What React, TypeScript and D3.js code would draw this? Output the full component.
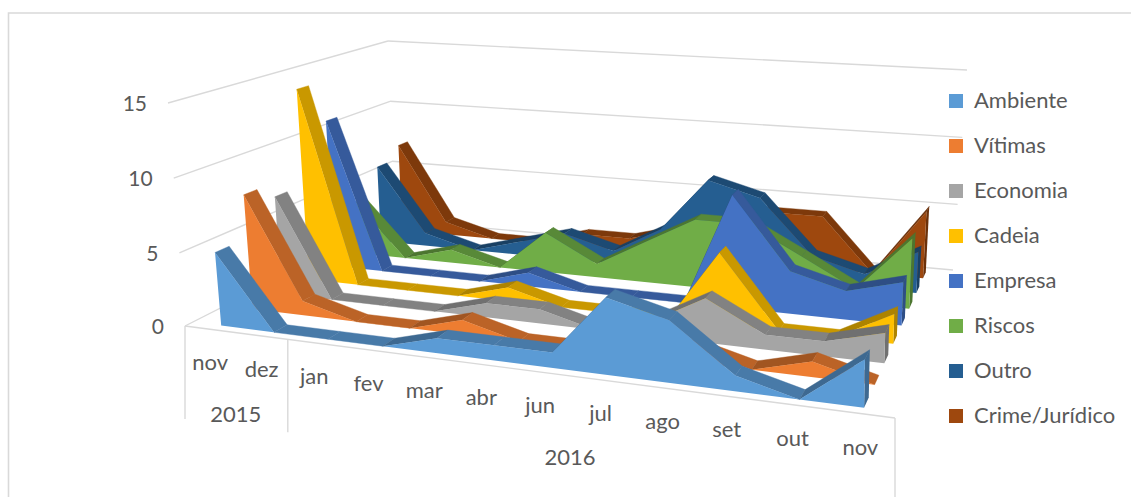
import React from "react";
import * as d3 from "d3";

const months = ["nov","dez","jan","fev","mar","abr","jun","jul","ago","set","out","nov"];
const seriesNames = ["Ambiente","Vítimas","Economia","Cadeia","Empresa","Riscos","Outro","Crime/Jurídico"];
const seriesColors = ["#5B9BD5","#ED7D31","#A5A5A5","#FFC000","#4472C4","#70AD47","#255E91","#9E480E"];
const ambiente = [5,0,0,0,1,1,1,5,4,1,0,3];
const vitimas = [8,1,0,0,1,0,0,0,1,0,1,0];
const economia = [7,0,0,0,1,1,0,1,3,1,1,2];
const cadeia = [14,0,0,0,1,0,0,0,5,0,0,2];
const empresa = [11,0,0,0,1,0,0,0,8,3,2,3];
const riscos = [4,0,1,0,3,1,3,5,5,3,1,5];
const outro = [6,1,0,1,2,1,3,7,6,2,1,3];
const crime = [7,1,0,0,1,1,2,4,4,4,0,5];
const allSeries = [ambiente,vitimas,economia,cadeia,empresa,riscos,outro,crime];
const valueTicks = [0,5,10,15];
const years = [{label:"2015",from:0,to:2},{label:"2016",from:2,to:12}];

// camera: corners of the chart box, on the floor and at the top of the value axis
const floorQuad=[[185,326],[895,418],[953,270],[394,220]];
const topQuad=[[168,103],[905,169],[967,70],[388,41]];
const SERIES_WARP=1.085, AXIS_WARP=1.04;

function homography(q:number[][]){
  const [[x0,y0],[x1,y1],[x2,y2],[x3,y3]]=q;
  const dx1=x1-x2,dx2=x3-x2,dy1=y1-y2,dy2=y3-y2;
  const sx=x0-x1+x2-x3,sy=y0-y1+y2-y3;
  const den=dx1*dy2-dx2*dy1;
  const g=(sx*dy2-dx2*sy)/den,h=(dx1*sy-sx*dy1)/den;
  const a=x1-x0+g*x1,b=x3-x0+h*x3,c=x0,d=y1-y0+g*y1,e=y3-y0+h*y3,f=y0;
  return (u:number,z:number):[number,number]=>{
    const w=g*u+h*z+1;
    return [(a*u+b*z+c)/w,(d*u+e*z+f)/w];
  };
}
const HF=homography(floorQuad),HT=homography(topQuad);
const P=(u0:number,z:number,t:number,r:number=SERIES_WARP):[number,number]=>{
  const u=r*u0/(1+(r-1)*u0);
  const a=HF(u,z),b=HT(u,z);
  return [a[0]+(b[0]-a[0])*t,a[1]+(b[1]-a[1])*t];
};
const uScale=d3.scaleLinear().domain([0,11]).range([0.045,0.958]);
const cellScale=d3.scaleLinear().domain([0,12]).range([0,1]);
const zFront=d3.scaleLinear().domain([0,8]).range([0.03,1.03]);
const BAND=0.054;
const vScale=d3.scaleLinear().domain([0,5,10,15]).range([0,0.328,0.663,1]);
const pts=(p:[number,number][])=>p.map(q=>q[0].toFixed(2)+","+q[1].toFixed(2)).join(" ");
const shade=(c:string,f:number)=>{const r=d3.rgb(c);return d3.rgb(r.r*f,r.g*f,r.b*f).formatHex();};

const GRID="#d9d9d9",TXT="#595959",FONT="Lato, Carlito, sans-serif";

export default function App(){
  const order=d3.range(allSeries.length).reverse();
  const line=(a:[number,number],b:[number,number],key:string)=>
    <line key={key} x1={a[0]} y1={a[1]} x2={b[0]} y2={b[1]} stroke={GRID} strokeWidth={1.4}/>;
  return (
    <svg width={1131} height={497} style={{position:"absolute",left:0,top:0,background:"#fff"}} fontFamily={FONT}>
      <path d="M8.5 497V13H1131" fill="none" stroke={GRID} strokeWidth={1.6}/>
      {valueTicks.map(v=>{
        const t=vScale(v),a=P(0,0,t),b=P(0,1,t),c=P(1,1,t);
        return <g key={v}>
          {line(a,b,"l")}{line(b,c,"b")}
          <text x={a[0]-21} y={a[1]+8} textAnchor="end" fontSize={21} fill={TXT}>{v}</text>
        </g>;
      })}
      {line(P(0,0,0),P(1,0,0),"front")}
      {[0,2,12].map(i=>{const a=P(cellScale(i),0,0,AXIS_WARP);return line(a,[a[0],a[1]+93],"div"+i);})}
      {months.map((m,i)=>{const a=P(cellScale(i+0.5),0,0,AXIS_WARP);
        return <text key={i} x={a[0]} y={a[1]+41} textAnchor="middle" fontSize={22} fill={TXT}>{m}</text>;})}
      {years.map(y=>{const a=P(cellScale((y.from+y.to)/2),0,0,AXIS_WARP);
        return <text key={y.label} x={a[0]} y={a[1]+89} textAnchor="middle" fontSize={22} fill={TXT}>{y.label}</text>;})}
      {order.map(s=>{
        const vals=allSeries[s],col=seriesColors[s],z0=zFront(s),z1=z0+BAND;
        const n=vals.length-1;
        const front:[number,number][]=vals.map((v,i)=>P(uScale(i),z0,vScale(v)));
        const back:[number,number][]=vals.map((v,i)=>P(uScale(i),z1,vScale(v)));
        const poly:[number,number][]=[P(uScale(0),z0,0),...front,P(uScale(n),z0,0)];
        return <g key={s}>
          <polygon points={pts([P(uScale(n),z0,0),front[n],back[n],P(uScale(n),z1,0)])} fill={shade(col,0.68)}/>
          {d3.range(n).map(i=>(
            <polygon key={i} points={pts([front[i],back[i],back[i+1],front[i+1]])}
              fill={shade(col,vals[i+1]>vals[i]?0.68:0.79)} stroke={shade(col,vals[i+1]>vals[i]?0.68:0.79)} strokeWidth={0.4}/>
          ))}
          <polygon points={pts(poly)} fill={col}/>
        </g>;
      })}
      {seriesNames.map((name,i)=>{
        const y=d3.scaleLinear().domain([0,7]).range([101,416])(i);
        return <g key={name}>
          <rect x={949} y={y-7} width={14} height={14} fill={seriesColors[i]}/>
          <text x={974} y={y+7} fontSize={22} fill={TXT}>{name}</text>
        </g>;
      })}
    </svg>
  );
}
